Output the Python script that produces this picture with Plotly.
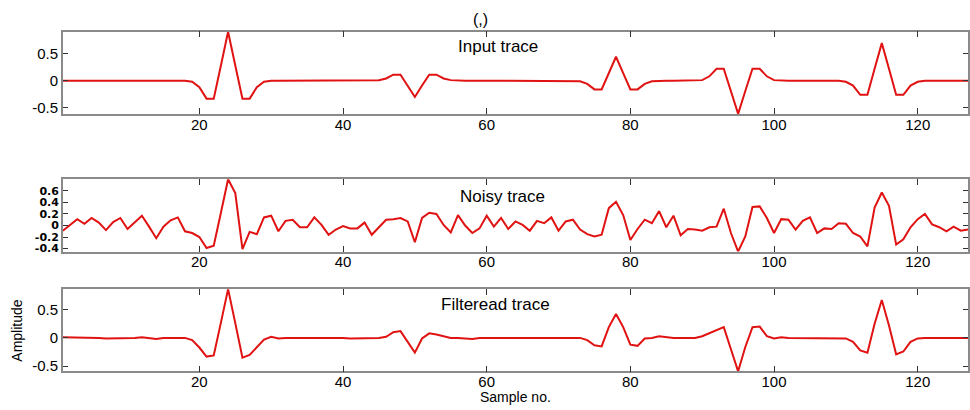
import plotly.graph_objects as go

# Sample axis
samples = list(range(1, 128))

# Clean synthetic trace
input_trace = [
    0, 0, 0, 0, 0, 0, 0, 0, 0, 0,
    0, 0, 0, 0, 0, 0, 0, 0, -0.02, -0.12,
    -0.33, -0.33, 0.28, 0.90, 0.28, -0.33, -0.33, -0.12, -0.02, 0,
    0, 0, 0, 0, 0, 0, 0, 0, 0, 0,
    0, 0, 0, 0, 0.01, 0.04, 0.11, 0.11, -0.09, -0.30,
    -0.09, 0.11, 0.11, 0.04, 0.01, 0, 0, 0, 0, 0,
    0, 0, 0, 0, 0, 0, 0, 0, 0, 0,
    0, 0, -0.01, -0.06, -0.16, -0.16, 0.14, 0.44, 0.14, -0.16,
    -0.16, -0.06, -0.01, 0, 0, 0, 0, 0, 0, 0.01,
    0.08, 0.22, 0.22, -0.19, -0.61, -0.19, 0.22, 0.22, 0.08, 0.01,
    0, 0, 0, 0, 0, 0, 0, 0, 0, -0.02,
    -0.09, -0.26, -0.26, 0.22, 0.69, 0.22, -0.26, -0.26, -0.09, -0.02,
    0, 0, 0, 0, 0, 0, 0,
]

# Trace with additive noise
noisy_trace = [
    -0.09, 0.01, 0.11, 0.03, 0.13, 0.05, -0.08, 0.06, 0.13, -0.06,
    0.05, 0.17, -0.02, -0.22, -0.02, 0.09, 0.14, -0.10, -0.13, -0.20,
    -0.39, -0.35, 0.22, 0.80, 0.56, -0.41, -0.11, -0.15, 0.14, 0.17,
    -0.10, 0.08, 0.10, -0.03, -0.03, 0.14, 0.01, -0.16, -0.07, -0.01,
    -0.05, -0.05, 0.05, -0.16, -0.03, 0.10, 0.11, 0.13, 0.07, -0.29,
    0.13, 0.22, 0.20, 0.01, -0.12, 0.18, 0.00, -0.13, -0.05, 0.17,
    -0.02, 0.13, -0.06, 0.07, 0.01, -0.09, 0.08, 0.04, 0.14, -0.09,
    0.07, 0.10, -0.07, -0.15, -0.19, -0.16, 0.30, 0.41, 0.18, -0.25,
    -0.06, 0.10, 0.04, 0.25, -0.03, 0.17, -0.17, -0.06, -0.07, -0.09,
    -0.03, -0.02, 0.29, -0.13, -0.45, -0.19, 0.32, 0.33, 0.13, -0.13,
    0.11, 0.10, -0.07, 0.08, 0.14, -0.13, -0.05, -0.06, 0.04, 0.03,
    -0.13, -0.19, -0.36, 0.31, 0.57, 0.34, -0.33, -0.24, -0.03, 0.11,
    0.20, 0.02, -0.03, -0.10, -0.02, -0.09, -0.07,
]

# Output of the denoising filter
filtered_trace = [
    0.01, 0.01, 0.0, 0.0, 0.0, 0.0, -0.01, -0.01, 0.0, 0.0,
    0.0, 0.01, 0.0, -0.02, 0.0, 0.0, 0.0, 0.0, -0.04, -0.17,
    -0.33, -0.31, 0.27, 0.86, 0.26, -0.35, -0.30, -0.16, -0.03, 0.02,
    -0.01, 0.0, 0.0, 0.01, 0.0, 0.0, 0.0, 0.0, 0.0, 0.0,
    -0.01, -0.01, 0.0, 0.0, 0.0, 0.02, 0.10, 0.12, -0.07, -0.26,
    -0.01, 0.08, 0.06, 0.03, 0.0, 0.0, -0.01, -0.02, 0.0, 0.0,
    0.0, 0.0, -0.01, 0.0, 0.0, 0.0, 0.0, 0.0, 0.0, 0.0,
    0.0, 0.0, 0.0, -0.04, -0.13, -0.15, 0.19, 0.42, 0.19, -0.12,
    -0.14, -0.01, 0.0, 0.03, 0.01, 0.0, 0.0, 0.0, 0.0, 0.03,
    0.08, 0.13, 0.19, -0.20, -0.59, -0.16, 0.19, 0.20, 0.03, -0.01,
    0.01, 0.0, 0.0, 0.0, 0.0, 0.0, 0.0, 0.0, 0.0, -0.01,
    -0.07, -0.22, -0.26, 0.25, 0.67, 0.22, -0.29, -0.24, -0.07, -0.01,
    0.0, 0.0, 0.0, 0.0, 0.0, 0.0, 0.0,
]

x_ticks = [20, 40, 60, 80, 100, 120]
y_ticks_main = [-0.5, 0, 0.5]
y_labels_main = ["-0.5", "0", "0.5"]
y_ticks_noisy = [-0.4, -0.2, 0, 0.2, 0.4, 0.6]
y_labels_noisy = ["-0.4", "-0.2", "0", "0.2", "0.4", "0.6"]

panel_titles = ["Input trace", "Noisy trace", "Filteread trace"]

FONT = "Liberation Sans, Arial, Helvetica, sans-serif"
W, H = 970, 410
LINE = "#e01212"
FRAME = "#8a8a8a"

# panel vertical extents in pixels from the top (top, bottom)
panels = [(32, 115), (181, 254), (292, 375)]
x_left, x_right = 63, 970

fig = go.Figure()
series = [input_trace, noisy_trace, filtered_trace]
for i, ys in enumerate(series):
    sfx = "" if i == 0 else str(i + 1)
    fig.add_trace(go.Scatter(
        x=samples, y=ys, mode="lines",
        line=dict(color=LINE, width=2),
        xaxis="x" + sfx, yaxis="y" + sfx, showlegend=False,
        hoverinfo="skip",
    ))

layout = dict(
    width=W, height=H,
    margin=dict(l=0, r=0, t=0, b=0),
    paper_bgcolor="white", plot_bgcolor="white",
    font=dict(family=FONT, size=15, color="black"),
    showlegend=False,
)

for i, ys in enumerate(series):
    sfx = "" if i == 0 else str(i + 1)
    top, bot = panels[i]
    dom_y = [1 - bot / H, 1 - top / H]
    xa = dict(
        domain=[x_left / W, x_right / W],
        range=[1, 127],
        tickmode="array", tickvals=x_ticks,
        ticktext=[str(v) for v in x_ticks],
        ticks="inside", ticklen=6, tickcolor="#333333", tickwidth=1,
        showline=True, linecolor=FRAME, linewidth=1.5, mirror="ticks",
        showgrid=False, zeroline=False,
        anchor="y" + sfx,
        ticklabelstandoff=-4,
        tickfont=dict(family=FONT, size=15, color="black"),
    )
    if i == 1:
        yt, yl = y_ticks_noisy, y_labels_noisy
        yfont = dict(family="DejaVu Sans, sans-serif", size=11,
                     weight="bold", color="black")
    else:
        yt, yl = y_ticks_main, y_labels_main
        yfont = dict(family=FONT, size=15, color="black")
    ya = dict(
        domain=dom_y,
        range=[min(ys), max(ys)],
        tickmode="array", tickvals=yt, ticktext=yl,
        ticks="inside", ticklen=5, tickcolor="#333333", tickwidth=1,
        showline=True, linecolor=FRAME, linewidth=1.5, mirror="ticks",
        showgrid=False, zeroline=False,
        anchor="x" + sfx,
        tickfont=yfont,
    )
    layout["xaxis" + sfx] = xa
    layout["yaxis" + sfx] = ya

fig.update_layout(**layout)

annotations = [
    dict(text="(,)", x=481 / W, y=1 - 20 / H, xref="paper", yref="paper",
         showarrow=False, font=dict(size=16), xanchor="center", yanchor="middle"),
    dict(text=panel_titles[0], x=499 / W, y=1 - 47 / H, xref="paper", yref="paper",
         showarrow=False, font=dict(size=17), xanchor="center", yanchor="middle"),
    dict(text=panel_titles[1], x=504 / W, y=1 - 198 / H, xref="paper", yref="paper",
         showarrow=False, font=dict(size=17), xanchor="center", yanchor="middle"),
    dict(text=panel_titles[2], x=497 / W, y=1 - 307 / H, xref="paper", yref="paper",
         showarrow=False, font=dict(size=17), xanchor="center", yanchor="middle"),
    dict(text="Sample no.", x=(x_left + x_right) / 2 / W, y=0,
         xref="paper", yref="paper", showarrow=False, font=dict(size=14),
         xanchor="center", yanchor="bottom", yshift=-1),
    dict(text="Amplitude", x=17 / W, y=1 - 334 / H, xref="paper", yref="paper",
         showarrow=False, font=dict(size=14), textangle=-90,
         xanchor="center", yanchor="middle"),
]
fig.update_layout(annotations=annotations)

fig.write_html("out.html")
